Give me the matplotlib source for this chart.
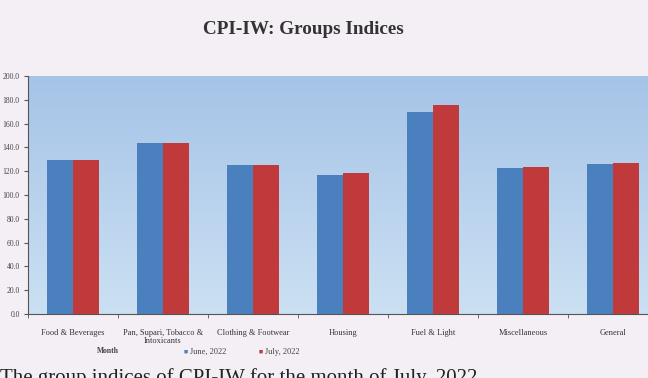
import numpy as np
import matplotlib
matplotlib.use("Agg")
import matplotlib.pyplot as plt
from matplotlib.colors import LinearSegmentedColormap

groups = ["Food & Beverages", "Pan, Supari, Tobacco &\nIntoxicants", "Clothing & Footwear",
          "Housing", "Fuel & Light", "Miscellaneous", "General"]
june = [129.4, 143.4, 125.5, 116.8, 170.0, 122.9, 125.8]
july = [129.4, 143.4, 125.5, 118.7, 175.4, 123.5, 126.6]
yticks = [0, 20, 40, 60, 80, 100, 120, 140, 160, 180, 200]

plt.rcParams['font.family'] = ['Liberation Serif', 'DejaVu Serif']

fig = plt.figure(figsize=(6.48, 3.78), dpi=100)
fig.patch.set_facecolor('#f4eff4')

ax = fig.add_axes([28/648, 64/378, 630/648, 238/378])
x = np.arange(len(groups))
w = 0.285

# gradient plot area
cmap = LinearSegmentedColormap.from_list('bg', ['#cbe0f2', '#a6c4e8'])
grad = np.linspace(0, 1, 256).reshape(-1, 1)
ax.imshow(grad, extent=[-0.5, len(groups) - 0.5, 0, 200], aspect='auto',
          cmap=cmap, origin='lower', zorder=0)

ax.bar(x - w/2, june, w, color='#4b80be', zorder=2)
ax.bar(x + w/2, july, w, color='#c03a3c', zorder=2)

ax.set_xlim(-0.5, len(groups) - 0.5)
ax.set_ylim(0, 200)
ax.set_yticks(yticks)
ax.set_yticklabels(["%.1f" % v for v in yticks], fontsize=5.5, color='#444444')
ax.set_xticks(x)
ax.set_xticklabels(groups, fontsize=6, color='#333333', linespacing=0.95)
ax.tick_params(axis='x', length=0, pad=11)
ax.set_xticks(np.arange(-0.5, len(groups)), minor=True)
ax.tick_params(axis='x', which='minor', length=3, color='#555555')
ax.tick_params(axis='y', length=3, color='#555555', pad=3)
for s in ['top', 'right']:
    ax.spines[s].set_visible(False)
ax.spines['left'].set_color('#555555')
ax.spines['bottom'].set_color('#555555')
ax.spines['left'].set_linewidth(0.8)
ax.spines['bottom'].set_linewidth(0.8)

fig.text(303/648, 1 - 30/378, "CPI-IW: Groups Indices", ha='center', va='center',
         fontsize=13.8, fontweight='bold', color='#333333')

# legend row
fig.text(97/648, 1 - 351/378, "Month", fontsize=5.5, fontweight='bold',
         color='#444444', va='center')
fig.text(184/648, 1 - 352/378, "\u25a0", fontsize=5, color='#4b80be', va='center')
fig.text(190/648, 1 - 352/378, "June, 2022", fontsize=6, color='#444444', va='center')
fig.text(259/648, 1 - 352/378, "\u25a0", fontsize=5, color='#c03a3c', va='center')
fig.text(265/648, 1 - 352/378, "July, 2022", fontsize=6, color='#444444', va='center')

# body text below the chart, cut by the bottom edge as in the scan
fig.text(0.0, 1 - 383/378, "The group indices of CPI-IW for the month of July, 2022",
         fontsize=15, color='#222222', va='baseline')

fig.savefig("out.png", dpi=100, facecolor=fig.get_facecolor())
